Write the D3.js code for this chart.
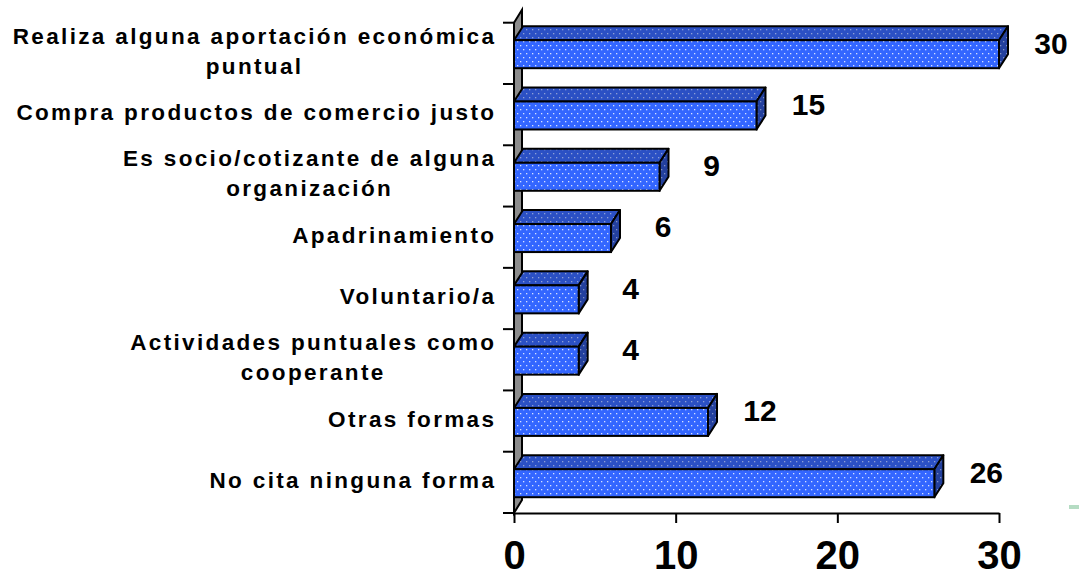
<!DOCTYPE html>
<html>
<head>
<meta charset="utf-8">
<script src="https://cdn.jsdelivr.net/npm/d3@7"></script>
<style>
  html, body { margin: 0; padding: 0; background: #fff; }
  svg { display: block; font-family: "Liberation Sans", Arial, sans-serif; }
  .cat-label { font-size: 22.5px; font-weight: bold; letter-spacing: 2.35px; fill: #000; }
  .value-label { font-size: 30px; font-weight: bold; fill: #000; }
  .x-axis text { font-size: 40px; font-weight: bold; fill: #000; font-family: "Liberation Sans", Arial, sans-serif; }
  .x-axis path, .x-axis line { stroke: #000; stroke-width: 2; }
</style>
</head>
<body>
<div id="chart"></div>
<script>
// categories top to bottom, lines split with "\n"
const categories = [
  "Realiza alguna aportación económica\npuntual",
  "Compra productos de comercio justo",
  "Es socio/cotizante de alguna\norganización",
  "Apadrinamiento",
  "Voluntario/a",
  "Actividades puntuales como\ncooperante",
  "Otras formas",
  "No cita ninguna forma"
];
const values = [30, 15, 9, 6, 4, 4, 12, 26];
const xTicks = [0, 10, 20, 30];

const width = 1079;
const height = 578;
const depthX = 9;   // 3d offset of the bar depth
const depthY = 14;

const svg = d3.select("#chart").append("svg")
  .attr("width", width)
  .attr("height", height);

const defs = svg.append("defs");

function dotPattern(id, base, dot) {
  const p = defs.append("pattern")
    .attr("id", id)
    .attr("patternUnits", "userSpaceOnUse")
    .attr("width", 6)
    .attr("height", 8);
  p.append("rect").attr("width", 6).attr("height", 8).attr("fill", base);
  p.append("rect").attr("x", 1).attr("y", 1).attr("width", 1.3).attr("height", 1.3).attr("fill", dot);
  p.append("rect").attr("x", 4).attr("y", 5).attr("width", 1.3).attr("height", 1.3).attr("fill", dot);
}
dotPattern("dotFront", "#3366ff", "#d6e0ff");
dotPattern("dotTop", "#2b50c4", "#8e9fd6");
dotPattern("dotSide", "#23409e", "#8090c4");

const x = d3.scaleLinear().domain([0, 30]).range([514, 999]);
const y = d3.scaleBand().domain(categories).range([22.7, 513]).padding(0);

// left wall (grey side plane)
const yTop = y.range()[0], yBot = y.range()[1], x0 = x(0);
svg.append("path")
  .attr("d", `M${x0},${yBot} L${x0},${yTop} L${x0 + 8},${yTop - 13} L${x0 + 8},${yBot - 13} Z`)
  .attr("fill", "#8c8c8c")
  .attr("stroke", "#000")
  .attr("stroke-width", 2);

// category ticks on the left
const boundaries = categories.map(c => y(c)).concat([yBot]);
svg.append("g").selectAll("line")
  .data(boundaries)
  .join("line")
  .attr("x1", x0 - 11)
  .attr("x2", x0)
  .attr("y1", d => d)
  .attr("y2", d => d)
  .attr("stroke", "#000")
  .attr("stroke-width", 2);

// bars
const bars = svg.append("g").selectAll("g")
  .data(categories.map((c, i) => ({ c, v: values[i] })))
  .join("g");

bars.each(function (d) {
  const g = d3.select(this);
  const ft = y(d.c) + 17.5;
  const fb = ft + 28;
  const xl = x(0), xr = x(d.v);
  g.append("path")
    .attr("d", `M${xl},${ft} L${xl + depthX},${ft - depthY} L${xr + depthX},${ft - depthY} L${xr},${ft} Z`)
    .attr("fill", "url(#dotTop)")
    .attr("stroke", "#000").attr("stroke-width", 2).attr("stroke-linejoin", "round");
  g.append("path")
    .attr("d", `M${xr},${ft} L${xr + depthX},${ft - depthY} L${xr + depthX},${fb - depthY} L${xr},${fb} Z`)
    .attr("fill", "url(#dotSide)")
    .attr("stroke", "#000").attr("stroke-width", 2).attr("stroke-linejoin", "round");
  g.append("rect")
    .attr("x", xl).attr("y", ft)
    .attr("width", xr - xl).attr("height", fb - ft)
    .attr("fill", "url(#dotFront)")
    .attr("stroke", "#000").attr("stroke-width", 2);
});

// value labels
svg.append("g").selectAll("text")
  .data(categories.map((c, i) => ({ c, v: values[i] })))
  .join("text")
  .attr("class", "value-label")
  .attr("x", d => x(d.v) + 52)
  .attr("y", d => y(d.c) + 20 + 10.8)
  .attr("text-anchor", "middle")
  .text(d => d.v);

// category labels, block right aligned, lines centred within block
const labelRight = 494;
const lineGap = 30;
categories.forEach(c => {
  const lines = c.split("\n");
  const cy = y(c) + y.bandwidth() / 2;
  const t = svg.append("g");
  const nodes = lines.map((ln, i) =>
    t.append("text")
      .attr("class", "cat-label")
      .attr("y", cy + 5.5 + (i - (lines.length - 1) / 2) * lineGap)
      .text(ln)
  );
  const widths = nodes.map(n => n.node().getComputedTextLength() - 2.35);
  const maxW = d3.max(widths);
  nodes.forEach((n, i) => n.attr("x", labelRight - maxW / 2 - widths[i] / 2));
});

// x axis
const xAxis = svg.append("g")
  .attr("class", "x-axis")
  .attr("transform", `translate(0,${yBot})`)
  .call(d3.axisBottom(x).tickValues(xTicks).tickSize(10).tickSizeOuter(0).tickPadding(22));
xAxis.selectAll("text").attr("dy", null).attr("y", 56);

// small green mark at right edge
svg.append("rect")
  .attr("x", 1069).attr("y", 505)
  .attr("width", 10).attr("height", 4)
  .attr("fill", "#b5dcc3");
</script>
</body>
</html>
